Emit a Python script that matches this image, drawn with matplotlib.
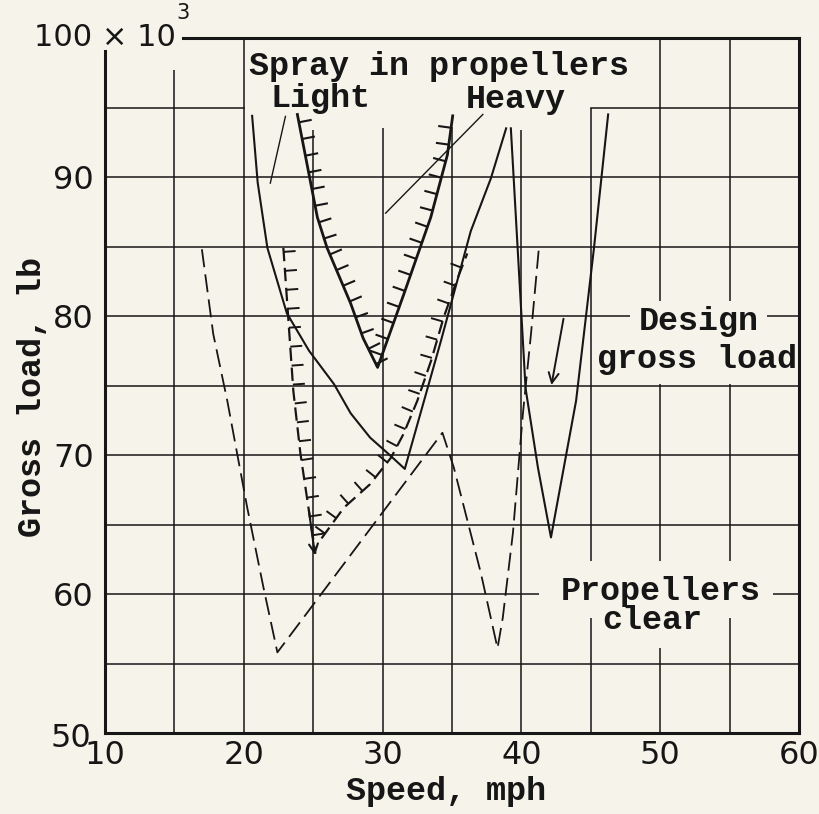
import numpy as np
import matplotlib.pyplot as plt
from matplotlib.patches import Rectangle

paper = '#f6f4ea'
ink = '#161616'
tw = 'Liberation Mono'   # typewriter look for the words

# spray boundary, light spray (solid V)
light_x = [20.6, 21.0, 21.7, 23.1, 24.7, 26.5, 27.7, 29.1, 30.4, 31.6, 34.2, 36.35, 37.8, 38.9]
light_y = [94.4, 89.6, 84.9, 80.2, 77.5, 75.1, 73.0, 71.25, 70.1, 69.0, 78.2, 86.1, 89.9, 93.5]
# heavy spray (inner V, hatched inside)
heavy_x = [23.86, 25.3, 26.0, 27.7, 28.6, 29.64, 31.54, 33.47, 34.67, 35.05]
heavy_y = [94.5, 87.1, 84.9, 80.9, 78.4, 76.3, 81.6, 87.1, 91.6, 94.4]
# hatched limits of light spray
edge_l_x = [22.85, 23.57, 24.08, 24.66, 25.16]
edge_l_y = [84.9, 74.6, 70.1, 66.2, 62.9]
edge_r_x = [25.6, 27.2, 29.1, 30.6, 31.5, 32.5, 33.5, 34.4, 35.4, 36.1]
edge_r_y = [64.0, 66.2, 67.9, 69.8, 71.5, 73.9, 76.8, 79.9, 82.7, 84.5]
# design gross load curve
design_x = [39.24, 40.3, 41.19, 42.13, 43.94, 45.23, 46.25]
design_y = [93.5, 74.8, 69.1, 64.07, 73.9, 84.9, 94.5]
# propellers clear (dashed)
clear_x = [16.98, 17.8, 18.81, 20.25, 21.41, 22.42, 34.31, 35.13, 37.08, 38.28, 38.66, 39.39, 40.11, 40.69, 41.26]
clear_y = [84.8, 78.7, 73.9, 66.2, 60.5, 55.8, 71.6, 69.1, 61.5, 56.1, 58.3, 64.4, 73.0, 78.7, 84.9]

xticks = [10, 20, 30, 40, 50, 60]
yticks = [60, 70, 80, 90]

plt.rcParams['font.family'] = 'DejaVu Sans'

fig = plt.figure(figsize=(8.2, 8.14), dpi=100, facecolor=paper)
ax = fig.add_axes([105/820, 81/814, 694/820, 695/814])
ax.set_facecolor(paper)
ax.set_xlim(10, 60)
ax.set_ylim(50, 100)

# grid drawn by hand, some lines stop short under the labels
vgrid = [15, 20, 25, 30, 35, 40, 45, 50, 55]
vtop = [97.7, 100, 93.4, 93.5, 93.6, 93.4, 95, 100, 100]
for x, t in zip(vgrid, vtop):
    ax.plot([x, x], [50, t], color=ink, lw=1.1, zorder=1, solid_capstyle='butt')
for y in [55, 60, 65, 70, 75, 80, 85, 90]:
    ax.plot([10, 60], [y, y], color=ink, lw=1.1, zorder=1, solid_capstyle='butt')
ax.plot([10, 20], [95, 95], color=ink, lw=1.1, zorder=1)
ax.plot([45, 60], [95, 95], color=ink, lw=1.1, zorder=1)

# blank patches of paper where the notes sit
for x0, y0, x1, y1 in [(47.8, 77.9, 57.7, 81.1), (45.5, 75.1, 59.7, 78.4),
                       (41.3, 58.3, 58.1, 62.4), (45.3, 56.1, 53.7, 59.6)]:
    ax.add_patch(Rectangle((x0, y0), x1 - x0, y1 - y0, facecolor=paper, edgecolor='none', zorder=2))

for s in ax.spines.values():
    s.set_linewidth(2.2)
    s.set_color(ink)
ax.spines['top'].set_bounds(15.63, 60)
ax.spines['left'].set_bounds(50, 99.1)

ax.set_xticks(xticks)
ax.set_xticklabels([str(v) for v in xticks])
ax.set_yticks(yticks)
ax.set_yticklabels([str(v) for v in yticks])
ax.tick_params(axis='both', length=0, labelsize=23, colors=ink)
ax.tick_params(axis='x', pad=5)
ax.tick_params(axis='y', pad=8)
ax.text(7.55, 49.64, '50', fontsize=23, ha='center', va='center', color=ink, clip_on=False)
ax.text(15.1, 100, '100 × 10', fontsize=22, ha='right', va='center', color=ink, clip_on=False)
ax.text(15.15, 101.1, '3', fontsize=15, ha='left', va='bottom', color=ink, clip_on=False)

fig.text(446/820, 1 - 800/814, 'Speed, mph', family=tw, fontsize=24, fontweight='bold',
         ha='center', va='baseline', color=ink)
fig.text(33/820, 1 - 397/814, 'Gross load, lb', family=tw, fontsize=24, fontweight='bold',
         ha='center', va='center', rotation=90, color=ink)


def hatch(xs, ys, side=1, step=17, size=12, lw=1.4, offset=8):
    pts = ax.transData.transform(np.column_stack([xs, ys]))
    seg = np.diff(pts, axis=0)
    d = np.hypot(seg[:, 0], seg[:, 1])
    s = np.concatenate([[0], np.cumsum(d)])
    inv = ax.transData.inverted()
    for si in np.arange(offset, s[-1], step):
        i = min(np.searchsorted(s, si, side='right') - 1, len(d) - 1)
        t = (si - s[i]) / d[i]
        p = pts[i] + t * seg[i]
        tx, ty = seg[i] / d[i]
        q = p + np.array([-ty, tx]) * side * size
        a, b = inv.transform([p, q])
        ax.plot([a[0], b[0]], [a[1], b[1]], color=ink, lw=lw, solid_capstyle='butt', zorder=3)


ax.plot(light_x, light_y, color=ink, lw=1.5, zorder=3)
ax.plot(heavy_x, heavy_y, color=ink, lw=2.0, zorder=3)
hatch(heavy_x, heavy_y, step=17, size=13, lw=1.5)
ax.plot(edge_l_x, edge_l_y, color=ink, lw=1.6, ls=(0, (6, 3)), zorder=3)
hatch(edge_l_x, edge_l_y, step=19, size=12, offset=4)
ax.plot(edge_r_x, edge_r_y, color=ink, lw=1.6, ls=(0, (6, 3)), zorder=3)
hatch(edge_r_x, edge_r_y, step=19, size=12, offset=6)
ax.annotate('', xy=(edge_l_x[-1], edge_l_y[-1] - 0.3), xytext=(edge_l_x[-2], edge_l_y[-2]),
            arrowprops=dict(arrowstyle='->', color=ink, lw=1.5, mutation_scale=16), zorder=3)
ax.plot(design_x, design_y, color=ink, lw=1.5, zorder=3)
ax.plot(clear_x, clear_y, color=ink, lw=1.3, ls=(0, (10, 4)), zorder=3)

# leaders
ax.plot([23.0, 21.91], [94.36, 89.56], color=ink, lw=1.0, zorder=3)
ax.plot([37.22, 30.22], [94.5, 87.4], color=ink, lw=1.0, zorder=3)
ax.annotate('', xy=(42.13, 74.84), xytext=(43.07, 80.0),
            arrowprops=dict(arrowstyle='->', color=ink, lw=1.4, mutation_scale=18), zorder=3)

txt = dict(family=tw, fontsize=24, fontweight='bold', color=ink, ha='center', va='baseline', zorder=5)
ax.text(34.06, 97.34, 'Spray in propellers', **txt)
ax.text(25.49, 95.04, 'Light', **txt)
ax.text(39.61, 94.96, 'Heavy', **txt)
ax.text(52.76, 78.99, 'Design', **txt)
ax.text(52.65, 76.26, 'gross load', **txt)
ax.text(50.02, 59.57, 'Propellers', **txt)
ax.text(49.4, 57.48, 'clear', **txt)

fig.savefig('out.png', dpi=100, facecolor=paper)
